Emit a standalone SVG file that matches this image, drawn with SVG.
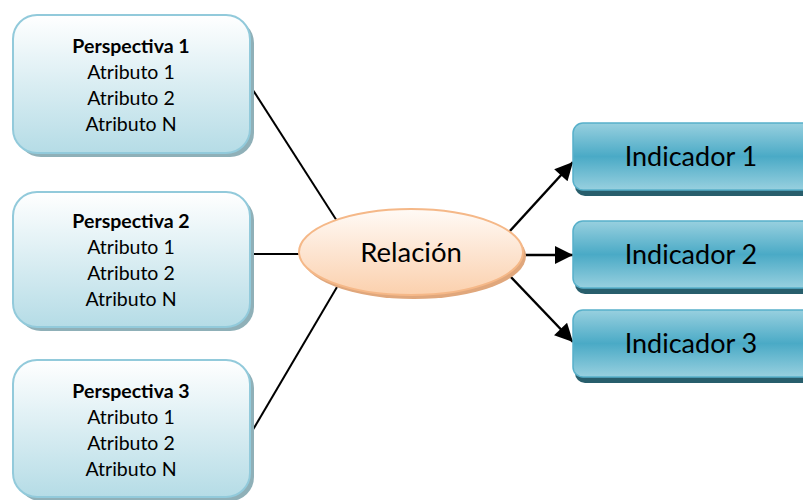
<svg xmlns="http://www.w3.org/2000/svg" width="803" height="500" viewBox="0 0 803 500">
<defs>
<linearGradient id="gPersp" x1="0" y1="0" x2="0" y2="1">
<stop offset="0" stop-color="#ffffff"/>
<stop offset="1" stop-color="#b5dce6"/>
</linearGradient>
<linearGradient id="gRel" x1="0" y1="0" x2="0" y2="1">
<stop offset="0" stop-color="#fffaf6"/>
<stop offset="1" stop-color="#fbd0ad"/>
</linearGradient>
<linearGradient id="gInd" x1="0" y1="0" x2="0" y2="1">
<stop offset="0" stop-color="#98d0df"/>
<stop offset="0.5" stop-color="#4aaac6"/>
<stop offset="1" stop-color="#98d0df"/>
</linearGradient>
<marker id="arrow" viewBox="0 0 12 12" refX="12" refY="6" markerWidth="20" markerHeight="18" markerUnits="userSpaceOnUse" orient="auto">
<path d="M0,0 L12,6 L0,12 z" fill="#000"/>
</marker>
</defs>
<style>
.pshadow{fill:#8fb0b8;}
.pbox{fill:url(#gPersp);stroke:#92cadb;stroke-width:2;}
.ptitle{font-family:Lato,"Open Sans",sans-serif;font-size:19.5px;font-weight:bold;fill:#000;text-anchor:middle;}
.ptext{font-family:Lato,"Open Sans",sans-serif;font-size:19.5px;fill:#000;text-anchor:middle;}
.ishadow{fill:#285e6c;}
.ibox{fill:url(#gInd);stroke:#57b0ca;stroke-width:1.5;}
.itext{font-family:Lato,"Open Sans",sans-serif;font-size:27px;fill:#000;text-anchor:middle;}
.conn{stroke:#000;stroke-width:2;fill:none;}
.arrowline{stroke:#000;stroke-width:2.5;fill:none;}
</style>

<g id="connectors">
<line class="conn" x1="251" y1="87" x2="337" y2="221"/>
<line class="conn" x1="250" y1="254" x2="300" y2="254"/>
<line class="conn" x1="251" y1="433" x2="337" y2="287"/>
<line class="arrowline" x1="509" y1="232" x2="573" y2="162" marker-end="url(#arrow)"/>
<line class="arrowline" x1="523" y1="255" x2="573" y2="255" marker-end="url(#arrow)"/>
<line class="arrowline" x1="509" y1="275" x2="573" y2="342" marker-end="url(#arrow)"/>
</g>

<g id="perspectiva1">
<rect class="pshadow" x="17" y="19" width="237" height="138" rx="24"/>
<rect class="pbox" x="13" y="15" width="237" height="138" rx="24"/>
<text class="ptitle" x="131" y="53">Perspectiva 1</text>
<text class="ptext" x="131" y="79">Atributo 1</text>
<text class="ptext" x="131" y="105">Atributo 2</text>
<text class="ptext" x="131" y="131">Atributo N</text>
</g>

<g id="perspectiva2">
<rect class="pshadow" x="17" y="196" width="237" height="135" rx="24"/>
<rect class="pbox" x="13" y="192" width="237" height="135" rx="24"/>
<text class="ptitle" x="131" y="228">Perspectiva 2</text>
<text class="ptext" x="131" y="254">Atributo 1</text>
<text class="ptext" x="131" y="280">Atributo 2</text>
<text class="ptext" x="131" y="306">Atributo N</text>
</g>

<g id="perspectiva3">
<rect class="pshadow" x="17" y="364" width="237" height="137" rx="24"/>
<rect class="pbox" x="13" y="360" width="237" height="137" rx="24"/>
<text class="ptitle" x="131" y="398">Perspectiva 3</text>
<text class="ptext" x="131" y="424">Atributo 1</text>
<text class="ptext" x="131" y="450">Atributo 2</text>
<text class="ptext" x="131" y="476">Atributo N</text>
</g>

<g id="relacion">
<ellipse cx="414" cy="256" rx="112" ry="43" fill="#e0a77c"/>
<ellipse cx="411" cy="252" rx="112" ry="43" fill="url(#gRel)" stroke="#f5b888" stroke-width="2"/>
<text x="411" y="262" font-family="Lato,'Open Sans',sans-serif" font-size="27.5" text-anchor="middle" fill="#000">Relación</text>
</g>

<g id="indicador1">
<rect class="ishadow" x="575" y="129" width="240" height="67" rx="10"/>
<rect class="ibox" x="573" y="123" width="240" height="67" rx="10"/>
<text class="itext" x="691" y="166">Indicador 1</text>
</g>

<g id="indicador2">
<rect class="ishadow" x="575" y="227" width="240" height="67" rx="10"/>
<rect class="ibox" x="573" y="221" width="240" height="67" rx="10"/>
<text class="itext" x="691" y="264">Indicador 2</text>
</g>

<g id="indicador3">
<rect class="ishadow" x="575" y="316" width="240" height="67" rx="10"/>
<rect class="ibox" x="573" y="310" width="240" height="67" rx="10"/>
<text class="itext" x="691" y="353">Indicador 3</text>
</g>
</svg>
